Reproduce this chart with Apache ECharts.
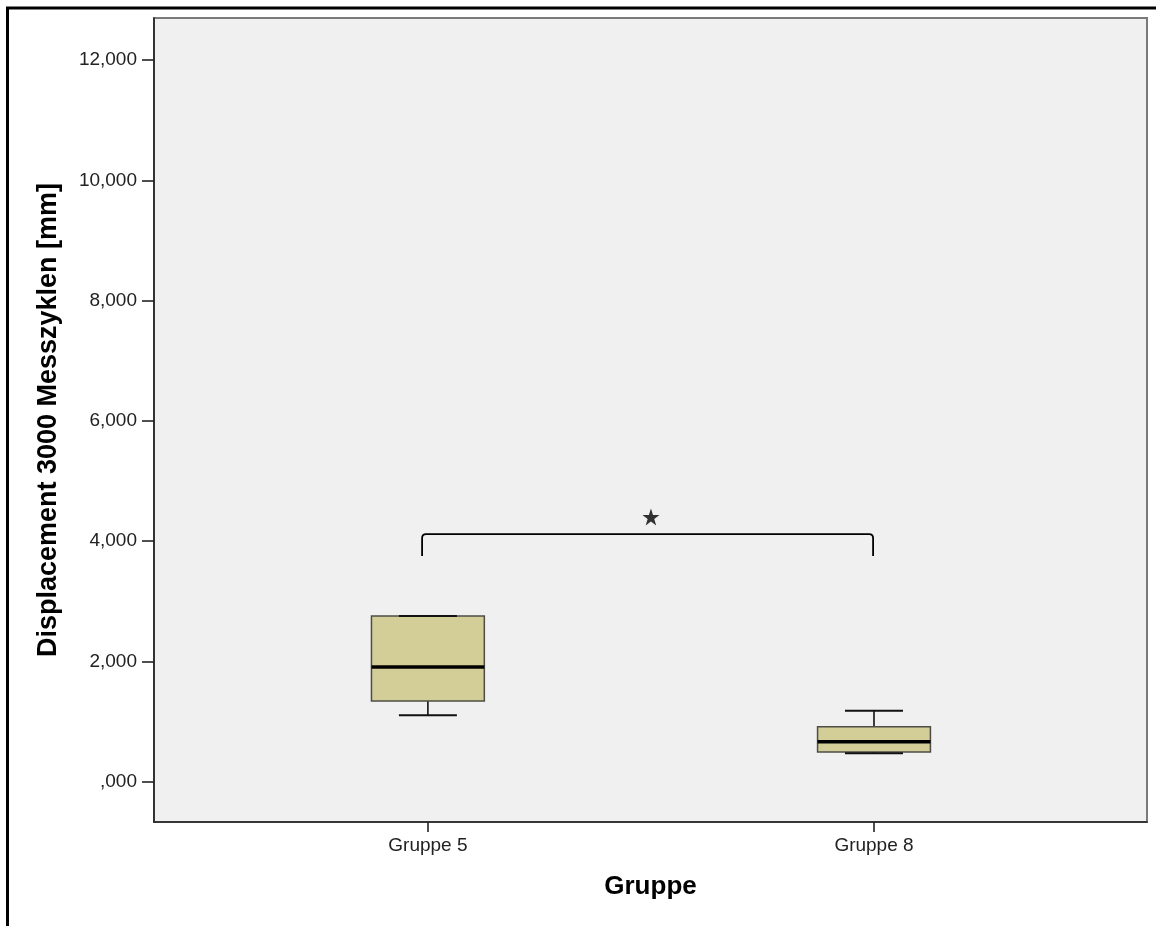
<!DOCTYPE html>
<html>
<head>
<meta charset="utf-8">
<script src="https://cdn.jsdelivr.net/npm/echarts@6/dist/echarts.min.js"></script>
<style>
html,body{margin:0;padding:0;background:#fff;}
#chart{width:1156px;height:926px;}
</style>
</head>
<body>
<div id="chart"></div>
<script>
// ---- data ----
const categories = ['Gruppe 5', 'Gruppe 8'];
const categoryPos = [0, 1];
// [min, Q1, median, Q3, max] in mm
const boxMin    = [1.104, 0.472];
const boxQ1     = [1.342, 0.494];
const boxMedian = [1.907, 0.665];
const boxQ3     = [2.755, 0.915];
const boxMax    = [2.755, 1.181];
const yTickValues = [0, 2, 4, 6, 8, 10, 12];
const yTickLabels = [',000', '2,000', '4,000', '6,000', '8,000', '10,000', '12,000'];
// significance bracket: [x-start, x-end, y-top, y-bottom], star position
const bracketX = [-0.013, 0.998];
const bracketY = [4.118, 3.753];
const starPoint = [0.5, 4.40];

const boxWidthUnits = 0.253;
const capWidthUnits = 0.13;
const FONT = '"Liberation Sans", Arial, sans-serif';

const boxData = categoryPos.map((x, i) => [x, boxMin[i], boxQ1[i], boxMedian[i], boxQ3[i], boxMax[i]]);

const chart = echarts.init(document.getElementById('chart'), null, {renderer: 'canvas'});

function renderBox(params, api) {
  const x = api.value(0);
  const mn = api.value(1), q1 = api.value(2), md = api.value(3), q3 = api.value(4), mx = api.value(5);
  const half = boxWidthUnits / 2, capHalf = capWidthUnits / 2;
  const pQ3L = api.coord([x - half, q3]);
  const pQ1R = api.coord([x + half, q1]);
  const pMdL = api.coord([x - half, md]);
  const pMdR = api.coord([x + half, md]);
  const pC = (v) => api.coord([x, v]);
  const capL = (v) => api.coord([x - capHalf, v]);
  const capR = (v) => api.coord([x + capHalf, v]);
  const black = {stroke: '#111', lineWidth: 1.6};
  return {
    type: 'group',
    children: [
      {type: 'line', shape: {x1: pC(q3)[0], y1: pC(q3)[1], x2: pC(mx)[0], y2: pC(mx)[1]}, style: black},
      {type: 'line', shape: {x1: pC(q1)[0], y1: pC(q1)[1], x2: pC(mn)[0], y2: pC(mn)[1]}, style: black},
      {type: 'rect', shape: {x: pQ3L[0], y: pQ3L[1], width: pQ1R[0] - pQ3L[0], height: pQ1R[1] - pQ3L[1]},
        style: {fill: '#D3CE97', stroke: '#4d4d46', lineWidth: 1.5}},
      {type: 'line', shape: {x1: pMdL[0], y1: pMdL[1], x2: pMdR[0], y2: pMdR[1]}, style: {stroke: '#000', lineWidth: 3.5}},
      {type: 'line', shape: {x1: capL(mx)[0], y1: capL(mx)[1], x2: capR(mx)[0], y2: capR(mx)[1]}, style: {stroke: '#111', lineWidth: 2}},
      {type: 'line', shape: {x1: capL(mn)[0], y1: capL(mn)[1], x2: capR(mn)[0], y2: capR(mn)[1]}, style: {stroke: '#111', lineWidth: 2}}
    ]
  };
}

function renderBracket(params, api) {
  const a = api.coord([api.value(0), api.value(3)]);
  const b = api.coord([api.value(0), api.value(2)]);
  const c = api.coord([api.value(1), api.value(2)]);
  const d = api.coord([api.value(1), api.value(3)]);
  const r = 4;
  const path = `M${a[0]},${a[1]} L${b[0]},${b[1] + r} Q${b[0]},${b[1]} ${b[0] + r},${b[1]} L${c[0] - r},${c[1]} Q${c[0]},${c[1]} ${c[0]},${c[1] + r} L${d[0]},${d[1]}`;
  return {
    type: 'path',
    shape: {pathData: path},
    style: {fill: 'none', stroke: '#000', lineWidth: 1.8}
  };
}

const option = {
  backgroundColor: '#fff',
  animation: false,
  grid: {
    left: 154, top: 18, right: 9, bottom: 104,
    show: true, backgroundColor: '#F0F0F0', borderColor: '#7a7a7a', borderWidth: 2
  },
  xAxis: {
    type: 'value',
    min: -0.614, max: 1.612,
    name: 'Gruppe',
    nameLocation: 'middle',
    nameGap: 52,
    nameTextStyle: {fontFamily: FONT, fontSize: 26, fontWeight: 'bold', color: '#000'},
    splitLine: {show: false},
    axisLine: {show: true, onZero: false, lineStyle: {color: '#222', width: 1.6}},
    axisTick: {show: true, length: 10, customValues: categoryPos, lineStyle: {color: '#222', width: 1.6}},
    axisLabel: {
      customValues: categoryPos, margin: 14,
      fontFamily: FONT, fontSize: 19, color: '#222',
      formatter: (v) => categories[categoryPos.indexOf(Math.round(v))] || ''
    }
  },
  yAxis: {
    type: 'value',
    min: -0.67, max: 12.7,
    name: 'Displacement 3000 Messzyklen [mm]',
    nameLocation: 'middle',
    nameGap: 92,
    nameRotate: 90,
    nameTextStyle: {fontFamily: FONT, fontSize: 27, fontWeight: 'bold', color: '#000'},
    splitLine: {show: false},
    axisLine: {show: true, onZero: false, lineStyle: {color: '#222', width: 1.6}},
    axisTick: {show: true, length: 12, customValues: yTickValues, lineStyle: {color: '#222', width: 1.6}},
    axisLabel: {
      customValues: yTickValues, margin: 17,
      fontFamily: FONT, fontSize: 19, color: '#222',
      formatter: (v) => {
        const i = yTickValues.findIndex(t => Math.abs(t - v) < 1e-6);
        return i >= 0 ? yTickLabels[i] : '';
      }
    }
  },
  graphic: [
    {type: 'line', shape: {x1: 6, y1: 8, x2: 1156, y2: 8}, style: {stroke: '#000', lineWidth: 3}, z: 100},
    {type: 'line', shape: {x1: 7.5, y1: 7, x2: 7.5, y2: 926}, style: {stroke: '#000', lineWidth: 3}, z: 100}
  ],
  series: [
    {
      type: 'custom',
      renderItem: renderBox,
      data: boxData,
      encode: {x: 0, y: [1, 2, 3, 4, 5]},
      silent: true, z: 3
    },
    {
      type: 'custom',
      renderItem: renderBracket,
      data: [[bracketX[0], bracketX[1], bracketY[0], bracketY[1]]],
      encode: {x: [0, 1], y: [2, 3]},
      silent: true, z: 4
    },
    {
      type: 'scatter',
      data: [starPoint],
      symbol: 'path://M50,0 L61.8,35.1 L98.9,35.1 L68.9,56.8 L80.3,91.9 L50,70.2 L19.7,91.9 L31.1,56.8 L1.1,35.1 L38.2,35.1 Z',
      symbolSize: 17,
      itemStyle: {color: '#000'},
      silent: true, z: 5
    }
  ]
};
chart.setOption(option);
</script>
</body>
</html>
